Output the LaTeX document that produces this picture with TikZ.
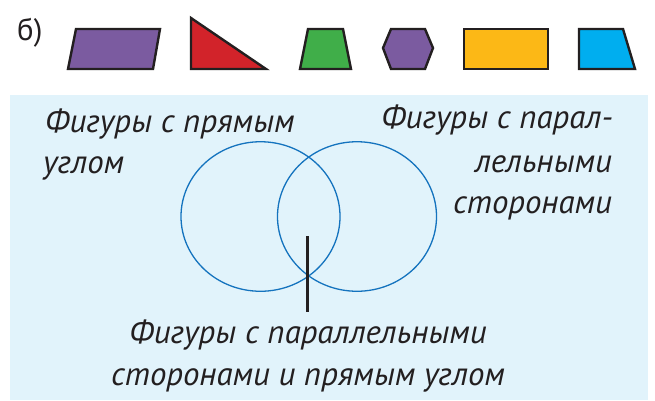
\documentclass[tikz,border=0pt]{standalone}
\usepackage{fontspec}
\setmainfont{PT Sans}
\usetikzlibrary{shapes.geometric}
\definecolor{panel}{RGB}{225,243,251}
\definecolor{ink}{RGB}{35,31,32}
\definecolor{ringblue}{RGB}{20,115,190}
\definecolor{fpurple}{RGB}{123,91,160}
\definecolor{fred}{RGB}{210,35,42}
\definecolor{fgreen}{RGB}{64,174,73}
\definecolor{fyellow}{RGB}{252,184,22}
\definecolor{fblue}{RGB}{0,174,239}
\tikzset{
  figshape/.style={draw=ink, line width=2.4bp, line join=miter},
  ring/.style={draw=ringblue, line width=1.3bp, ellipse, minimum width=159bp, minimum height=149.5bp, inner sep=0pt},
  lbl/.style={inner sep=0pt, text=ink, font=\fontsize{33}{41}\selectfont\itshape},
  pointer/.style={draw=ink, line width=2.5bp}
}
\begin{document}
\begin{tikzpicture}[x=1bp,y=-1bp]
\useasboundingbox (0,0) rectangle (655,400);
% label
\node[inner sep=0pt, anchor=base west, text=ink, font=\fontsize{31}{33}\selectfont] (b) at (17,40) {б)};
% figures
\filldraw[figshape, fill=fpurple] (68,69) -- (76,29) -- (160,29) -- (153,69) -- cycle;
\filldraw[figshape, fill=fred] (191,18) -- (191,69) -- (266,69) -- cycle;
\filldraw[figshape, fill=fgreen] (300,69) -- (308,29) -- (343,29) -- (351,69) -- cycle;
\filldraw[figshape, fill=fpurple] (383,48) -- (391,29) -- (425,29) -- (433,48) -- (425,69) -- (391,69) -- cycle;
\filldraw[figshape, fill=fyellow] (464,29) rectangle (548,69);
\filldraw[figshape, fill=fblue] (579,29) -- (623,29) -- (635,69) -- (579,69) -- cycle;
% panel
\fill[panel] (10,95) rectangle (648,400);
% Venn diagram
\node[ring] (left) at (260.5,216.5) {};
\node[ring] (right) at (357,216.5) {};
% texts
\node[lbl, anchor=base west] (l1) at (45,132) {Фигуры с прямым};
\node[lbl, anchor=base west] (l2) at (43,173) {углом};
\node[lbl, anchor=base east] (r1) at (613,128) {Фигуры с парал-};
\node[lbl, anchor=base east] (r2) at (612,172) {лельными};
\node[lbl, anchor=base east] (r3) at (612,213) {сторонами};
\node[lbl, anchor=base] (b1) at (308,343) {Фигуры с параллельными};
\node[lbl, anchor=base] (b2) at (308,385) {сторонами и прямым углом};
% pointer
\coordinate (ptop) at (307.5,236);
\coordinate (pbot) at (307.5,312);
\draw[pointer] (ptop) -- (pbot);
\end{tikzpicture}
\end{document}
